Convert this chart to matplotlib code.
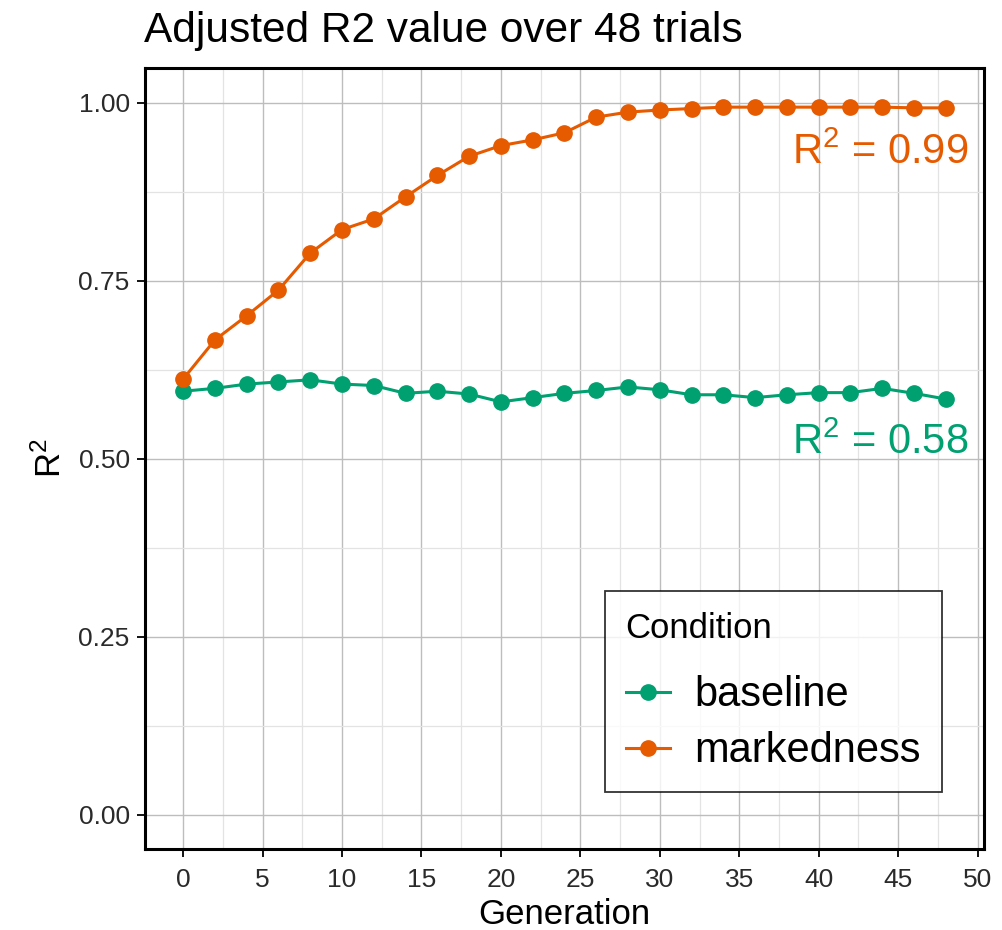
"""Adjusted R2 over generations for baseline vs markedness conditions."""

import matplotlib

matplotlib.use("Agg")
import matplotlib.pyplot as plt
import numpy as np
from matplotlib.ticker import MultipleLocator

plt.rcParams["font.family"] = ["Liberation Sans", "DejaVu Sans"]
plt.rcParams["mathtext.fontset"] = "custom"
plt.rcParams["mathtext.rm"] = "Liberation Sans"
plt.rcParams["mathtext.it"] = "Liberation Sans"

generation = np.arange(0, 49, 2)
baseline = [0.595, 0.599, 0.605, 0.608, 0.611, 0.605, 0.603, 0.592, 0.595,
            0.591, 0.580, 0.586, 0.592, 0.596, 0.601, 0.597, 0.590, 0.590,
            0.586, 0.590, 0.593, 0.593, 0.599, 0.592, 0.584]
markedness = [0.612, 0.667, 0.701, 0.737, 0.789, 0.822, 0.837, 0.868, 0.898,
              0.925, 0.940, 0.948, 0.958, 0.980, 0.987, 0.990, 0.992, 0.994,
              0.994, 0.994, 0.994, 0.994, 0.994, 0.993, 0.993]
final_r2 = {"baseline": 0.58, "markedness": 0.99}

green = "#00A070"
orange = "#E65A00"

fig = plt.figure(figsize=(10.02, 9.3), dpi=100)
ax = fig.add_axes([0.1447, 0.0871, 0.8373, 0.8398])

ax.plot(generation, baseline, "-o", color=green, lw=2.2, ms=11, label="baseline")
ax.plot(generation, markedness, "-o", color=orange, lw=2.2, ms=11, label="markedness")

ax.text(49.4, 0.93, r"R$^2$ = %.2f" % final_r2["markedness"], color=orange,
        fontsize=30, ha="right", va="center")
ax.text(49.4, 0.523, r"R$^2$ = %.2f" % final_r2["baseline"], color=green,
        fontsize=30, ha="right", va="center")

ax.set_xlim(-2.4, 50.4)
ax.set_ylim(-0.048, 1.049)
ax.xaxis.set_major_locator(MultipleLocator(5))
ax.xaxis.set_minor_locator(MultipleLocator(2.5))
ax.yaxis.set_minor_locator(MultipleLocator(0.125))
ax.set_yticks([0, 0.25, 0.5, 0.75, 1.0], ["0.00", "0.25", "0.50", "0.75", "1.00"])

ax.grid(which="major", color="#BDBDBD", lw=1.0)
ax.grid(which="minor", color="#E3E3E3", lw=0.9)
ax.set_axisbelow(True)
ax.tick_params(which="major", direction="out", length=6, width=1.3,
               labelsize=19, colors="black", labelcolor="#2A2A2A")
ax.tick_params(axis="y", pad=5)
ax.tick_params(axis="x", pad=8)
ax.tick_params(which="minor", length=0)
for s in ax.spines.values():
    s.set_linewidth(2.2)
    s.set_color("black")

ax.set_xlabel("Generation", fontsize=25, labelpad=4)
ax.set_ylabel(r"R$^2$", fontsize=25, labelpad=8)
ax.set_title("Adjusted R2 value over 48 trials", fontsize=30.5, loc="left",
             x=-0.001, pad=18.5)

leg = ax.legend(title="Condition", loc="lower right", bbox_to_anchor=(0.95, 0.073),
                borderaxespad=0, fontsize=30, title_fontsize=25, frameon=True,
                fancybox=False, edgecolor="black", handlelength=1.06,
                borderpad=0.5, labelspacing=0.38, handletextpad=0.6)
leg.get_frame().set_linewidth(1.3)
leg._legend_box.align = "left"
leg._legend_box.sep = 22

fig.savefig("out.png", dpi=100)
